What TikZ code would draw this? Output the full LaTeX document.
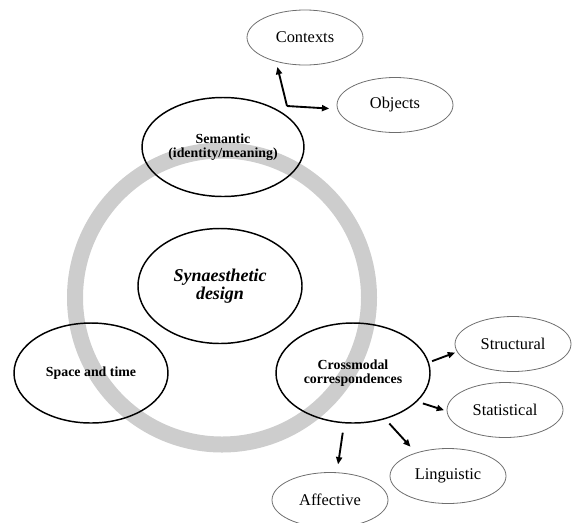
\documentclass[tikz,border=0pt]{standalone}
\usepackage{fontspec}
\setmainfont{Liberation Serif}
\usetikzlibrary{shapes.geometric,arrows.meta}
\definecolor{ringgray}{RGB}{205,205,205}
\definecolor{thingray}{RGB}{110,110,110}
\begin{document}
\begin{tikzpicture}[x=0.75pt,y=-0.75pt,
  mainel/.style={ellipse, draw=black, line width=1.1pt, inner sep=0pt, align=center,
    font=\fontsize{10.4}{10.5}\selectfont\bfseries},
  subel/.style={ellipse, draw=thingray, line width=0.6pt, inner sep=0pt,
    minimum width=87pt, minimum height=41.25pt, font=\fontsize{12.3}{14}\selectfont},
  arr/.style={-{Triangle[length=5.5pt,width=4.5pt]}, line width=1.4pt}]
\useasboundingbox (0,0) rectangle (574,522);
% ring
\draw[ringgray, line width=12pt] (222,297.5) circle[radius=147];
% main ellipses
\node[mainel, minimum width=121.5pt, minimum height=74.25pt] (sem) at (223,147) {Semantic\\(identity/meaning)};
\node[mainel, minimum width=123pt, minimum height=86.25pt,
  font=\fontsize{13.5}{13.5}\selectfont\bfseries\itshape] (syn) at (220,286) {Synaesthetic\\design};
\node[mainel, minimum width=115.5pt, minimum height=75pt] (spa) at (91,373) {Space and time};
\node[mainel, minimum width=115.5pt, minimum height=75pt] (cro) at (353,373) {Crossmodal\\correspondences};
% sub ellipses
\node[subel] (ctx) at (305,37.5) {Contexts};
\node[subel] (obj) at (395,105) {Objects};
\node[subel] (str) at (513,344) {Structural};
\node[subel] (sta) at (505,410) {Statistical};
\node[subel] (lin) at (448,476) {Linguistic};
\node[subel] (aff) at (330,500) {Affective};
% arrows
\coordinate (k) at (287,106);
\draw[arr, shorten >=4pt] (k) -- (ctx.220);
\draw[arr, shorten >=6pt] (k) -- (obj.184);
\draw[arr, shorten <=2.5pt, shorten >=1.5pt] (cro.8) -- (str.188);
\draw[arr, shorten <=4.5pt, shorten >=2pt] (cro.-24) -- (sta.181);
\draw[arr, shorten <=4.5pt, shorten >=6pt] (cro.-55) -- (lin.144);
\draw[arr, shorten <=7pt, shorten >=6pt] (cro.-100) -- (aff.76);
\end{tikzpicture}
\end{document}
